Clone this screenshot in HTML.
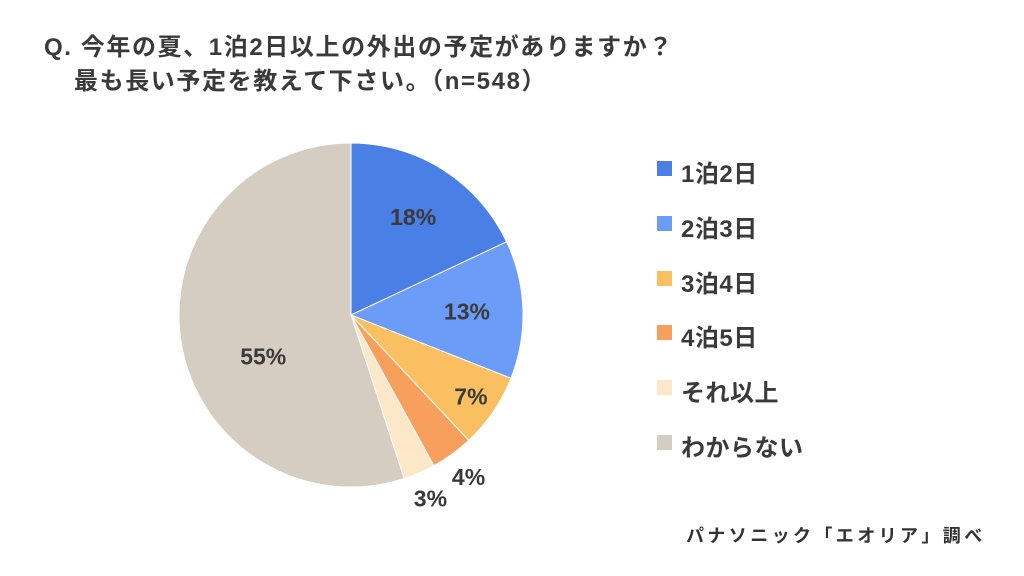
<!DOCTYPE html>
<html><head><meta charset="utf-8"><style>
body{margin:0;background:#fff;width:1024px;height:576px;overflow:hidden;font-family:"Liberation Sans","Noto Sans CJK JP",sans-serif;color:#3a3a3a}
.t{position:absolute;left:44px;font-size:24px;letter-spacing:1.6px;font-weight:bold;color:#3a3a3a;white-space:nowrap}
.leg{position:absolute;left:657px;font-size:24px;font-weight:bold;color:#3a3a3a}
.sq{position:absolute;left:0;width:15px;height:15px}
.lt{position:absolute;left:24px;top:-15px;white-space:nowrap;letter-spacing:0.5px}
</style></head><body>
<div class="t" style="top:27px">Q. 今年の夏、1泊2日以上の外出の予定がありますか？</div>
<div class="t" style="top:61px;left:74px">最も長い予定を教えて下さい。（n=548）</div>
<svg id="pie" width="1024" height="576" style="position:absolute;left:0;top:0"></svg>
<div id="legend"></div>
<div style="position:absolute;left:686px;top:522px;font-size:18px;letter-spacing:3.4px;font-weight:bold;color:#333;white-space:nowrap">パナソニック「エオリア」調べ</div>
<script>
const categories=["1泊2日","2泊3日","3泊4日","4泊5日","それ以上","わからない"];
const values=[18,13,7,4,3,55];
const colors=["#4a7fe6","#6b9cf7","#f9bf60","#f7a05e","#fce7c8","#d5cdc1"];
const cx=351,cy=315,R=172;
const svg=document.getElementById('pie');
const NS="http://www.w3.org/2000/svg";
const total=values.reduce((a,b)=>a+b,0);
let cum=0;
function pt(frac,r){const a=frac*2*Math.PI;return [cx+r*Math.sin(a),cy-r*Math.cos(a)];}
values.forEach((v,i)=>{
  const s=cum/total,e=(cum+v)/total;cum+=v;
  const [x1,y1]=pt(s,R),[x2,y2]=pt(e,R);
  const p=document.createElementNS(NS,'path');
  p.setAttribute('d',`M${cx},${cy}L${x1},${y1}A${R},${R} 0 ${e-s>0.5?1:0} 1 ${x2},${y2}Z`);
  p.setAttribute('fill',colors[i]);p.setAttribute('stroke','#fff');p.setAttribute('stroke-width','1');
  
  
  svg.appendChild(p);
  const frac=v/total;
  const lr=frac<0.05?200:(frac<0.1?145:(frac>0.5?97:116));
  const shift=frac>0.5?-0.045:0;
  const [lx,ly]=pt((s+e)/2+shift,lr);
  const t=document.createElementNS(NS,'text');
  t.setAttribute('x',lx);t.setAttribute('y',ly+8);t.setAttribute('text-anchor','middle');
  t.setAttribute('font-size','23');t.setAttribute('font-weight','bold');t.setAttribute('fill','#3a3a3a');
  t.setAttribute('font-family','"Liberation Sans",sans-serif');
  t.textContent=v+'%';
  
  
  svg.appendChild(t);
});
const leg=document.getElementById('legend');
categories.forEach((c,i)=>{
  const d=document.createElement('div');d.className='leg';d.style.top=(169+i*54.8)+'px';
  
  
  d.innerHTML=`<div class="sq" style="top:-8px;background:${colors[i]}"></div><div class="lt">${c}</div>`;
  leg.appendChild(d);
});
</script>
</body></html>
